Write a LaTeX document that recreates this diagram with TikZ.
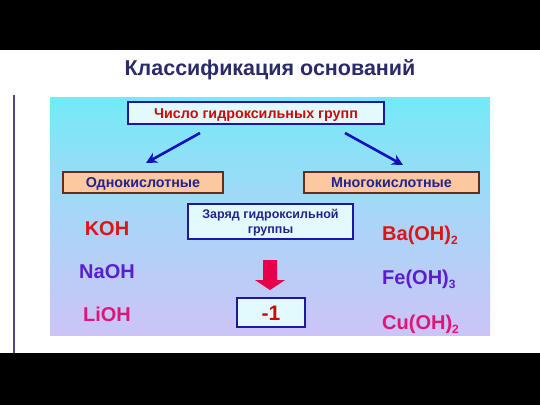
\documentclass[tikz,border=0pt]{standalone}
\usepackage{fontspec}
\setmainfont{Liberation Sans}
\usetikzlibrary{arrows.meta}
\definecolor{navy}{HTML}{2B2B6B}
\definecolor{boxblue}{HTML}{1A1AA0}
\definecolor{boxfill}{HTML}{E2FAFE}
\definecolor{peach}{HTML}{FBC8A0}
\definecolor{brown}{HTML}{6B2A1A}
\definecolor{txtblue}{HTML}{23238F}
\definecolor{txtred}{HTML}{CC0A0A}
\definecolor{kred}{HTML}{DD1515}
\definecolor{npurple}{HTML}{5A1ED0}
\definecolor{lmag}{HTML}{E0157A}
\definecolor{arrblue}{HTML}{1010C0}
\definecolor{crimson}{HTML}{E8004A}
\definecolor{panTop}{HTML}{74EAF6}
\definecolor{panMid}{HTML}{A8D6F8}
\definecolor{panBot}{HTML}{CCC4F6}
\definecolor{sideline}{HTML}{4B4B7D}
\newcommand{\sbx}[1]{\raisebox{-4pt}{\fontsize{12}{12}\selectfont #1}}
\tikzset{
  cyanbox/.style={draw=boxblue, line width=1.6pt, fill=boxfill, inner sep=0pt, font=\fontsize{14.3}{16}\selectfont\bfseries, text height=10.3pt, text depth=0pt},
  peachbox/.style={draw=brown, line width=1.6pt, fill=peach, inner sep=0pt, text=txtblue, font=\fontsize{14.3}{16}\selectfont\bfseries, text height=10pt, text depth=0pt},
  formula/.style={inner sep=0pt, font=\fontsize{20}{22}\selectfont\bfseries},
  bluearrow/.style={draw=arrblue, line width=2.6pt, -{Stealth[length=11pt,width=11pt]}}
}
\begin{document}
\begin{tikzpicture}[x=1pt,y=-1pt]
\useasboundingbox (0,0) rectangle (540,405);
\fill[white] (0,0) rectangle (540,405);
% black bars
\fill[black] (0,0) rectangle (540,50);
\fill[black] (0,353) rectangle (540,405);
% side line
\draw[sideline, line width=1.5pt] (14,95) -- (14,353);
% title
\node[text=navy, font=\fontsize{21.5}{24}\selectfont\bfseries, inner sep=0pt] (title) at (270,70) {Классификация оснований};
% panel
\shade[top color=panTop, bottom color=panBot, middle color=panMid] (50,97) rectangle (490,335);
% boxes
\node[cyanbox, text=txtred, minimum width=256pt, minimum height=22pt] (top) at (256,113) {Число гидроксильных групп};
\node[peachbox, minimum width=160pt, minimum height=21pt] (odno) at (143,182.5) {Однокислотные};
\node[peachbox, minimum width=175pt, minimum height=21pt] (mnogo) at (391.5,182.5) {Многокислотные};
\node[cyanbox, text=txtblue, minimum width=165pt, minimum height=35pt, align=center, font=\fontsize{12.5}{15}\selectfont\bfseries, text height=26pt, text depth=2.4pt] (zar) at (270.5,221.5) {Заряд гидроксильной\\группы};
\node[cyanbox, text=txtred, minimum width=68pt, minimum height=29pt, font=\fontsize{21}{22}\selectfont\bfseries, text height=15pt] (minus) at (271,312.5) {-1};
% blue arrows
\coordinate (ls) at (200,133);
\coordinate (le) at (146,163);
\coordinate (rs) at (345,133);
\coordinate (re) at (403,165);
\draw[bluearrow] (ls) -- (le);
\draw[bluearrow] (rs) -- (re);
% red block arrow
\fill[crimson] (263,260) -- (277,260) -- (277,280) -- (285,280) -- (270,290) -- (255,280) -- (263,280) -- cycle;
% formulas
\node[formula, text=kred] (koh) at (107,229) {KOH};
\node[formula, text=npurple] (naoh) at (107,272) {NaOH};
\node[formula, text=lmag] (lioh) at (107,314) {LiOH};
\node[formula, text=kred, anchor=base west] (ba) at (382,240) {Ba(OH)\sbx{2}};
\node[formula, text=npurple, anchor=base west] (fe) at (382,284) {Fe(OH)\sbx{3}};
\node[formula, text=lmag, anchor=base west] (cu) at (382,329) {Cu(OH)\sbx{2}};
\end{tikzpicture}
\end{document}
